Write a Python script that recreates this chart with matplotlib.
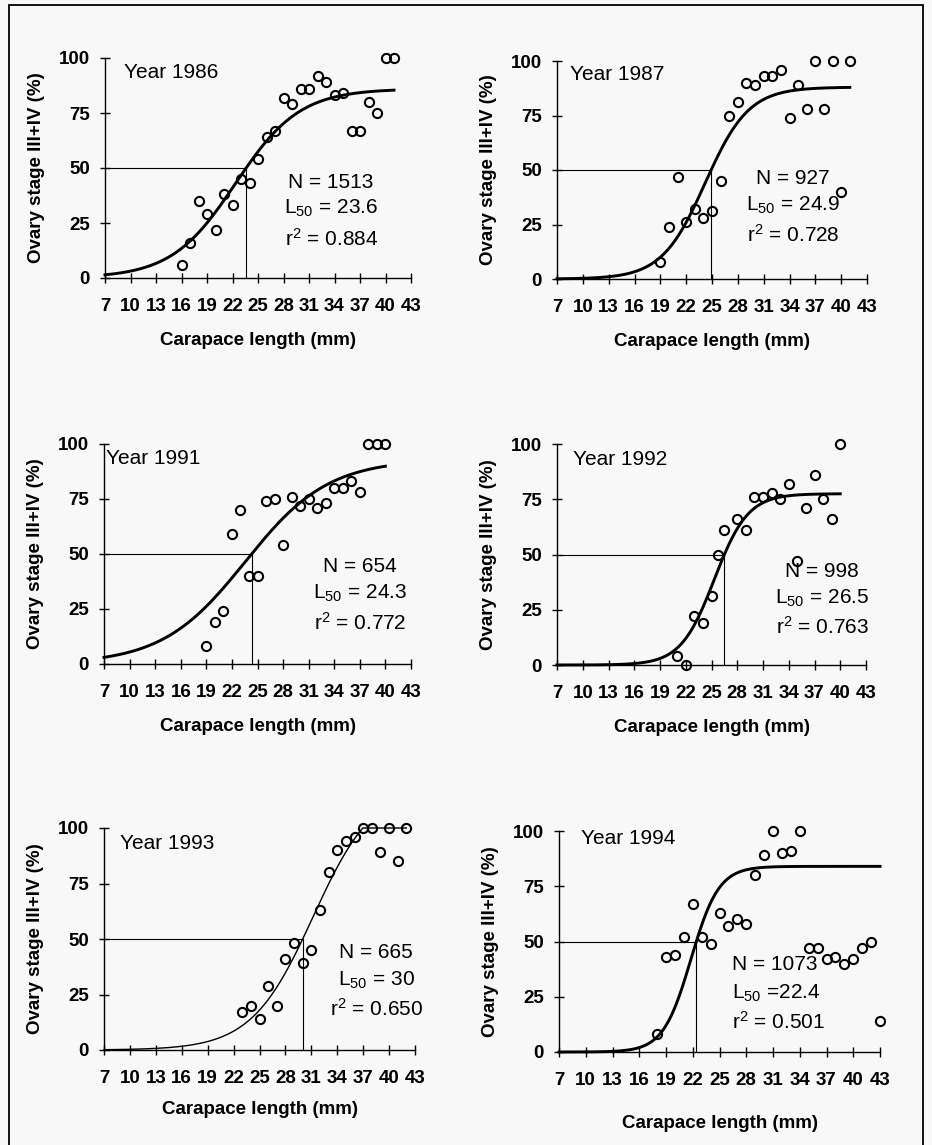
import numpy as np
import matplotlib.pyplot as plt
from matplotlib.patches import Rectangle

plt.rcParams['font.family'] = ['Liberation Sans', 'DejaVu Sans']
plt.rcParams['mathtext.fontset'] = 'custom'
plt.rcParams['mathtext.rm'] = 'Liberation Sans'
plt.rcParams['mathtext.it'] = 'Liberation Sans:italic'

# data
years = ['1986', '1987', '1991', '1992', '1993', '1994']

len_1986 = list(range(16, 42))
pct_1986 = [6, 16, 35, 29, 22, 38, 33, 45, 43, 54, 64, 67, 82, 79, 86, 86,
            92, 89, 83, 84, 67, 67, 80, 75, 100, 100]

len_1987 = list(range(19, 42))
pct_1987 = [8, 24, 47, 26, 32, 28, 31, 45, 75, 81, 90, 89, 93, 93, 96, 74,
            89, 78, 100, 78, 100, 40, 100]

len_1991 = list(range(19, 41))
pct_1991 = [8, 19, 24, 59, 70, 40, 40, 74, 75, 54, 76, 72, 75, 71, 73, 80,
            80, 83, 78, 100, 100, 100]

len_1992 = [21, 22, 23, 24, 25, 25.8, 26.5, 28, 29, 30, 31, 32, 33, 34, 35,
            36, 37, 38, 39, 40]
pct_1992 = [4, 0, 22, 19, 31, 50, 61, 66, 61, 76, 76, 78, 75, 82, 47, 71,
            86, 75, 66, 100]

len_1993 = list(range(23, 43))
pct_1993 = [17, 20, 14, 29, 20, 41, 48, 39, 45, 63, 80, 90, 94, 96, 100, 100,
            89, 100, 85, 100]

len_1994 = list(range(18, 44))
pct_1994 = [8, 43, 44, 52, 67, 52, 49, 63, 57, 60, 58, 80, 89, 100, 90, 91,
            100, 47, 47, 42, 43, 40, 42, 47, 50, 14]

n_fish = [1513, 927, 654, 998, 665, 1073]
l50 = [23.6, 24.9, 24.3, 26.5, 30, 22.4]
r_sq = ['0.884', '0.728', '0.772', '0.763', '0.650', '0.501']

# logistic fit: asymptote, slope, end of drawn curve
asym = [86, 88, 93, 77.5, 120, 84]
slope = [0.265, 0.395, 0.205, 0.51, 0.28, 0.64]
curve_end = [41, 41, 40, 40, 42, 43]

lengths = [len_1986, len_1987, len_1991, len_1992, len_1993, len_1994]
pcts = [pct_1986, pct_1987, pct_1991, pct_1992, pct_1993, pct_1994]

W, H = 932, 1145
fig = plt.figure(figsize=(W / 100, H / 100), dpi=100)
fig.patch.set_facecolor('#f8f8f8')

# axes boxes in pixels: left, right, top, bottom
boxes = [(105, 411, 58, 278), (557, 867, 61, 279),
         (104, 411, 444, 664), (557, 866, 444, 665),
         (104, 415, 828, 1050), (559, 880, 831, 1052)]
year_pos = [(0.062, 0.936), (0.042, 0.936), (0.0065, 0.936),
            (0.052, 0.932), (0.051, 0.932), (0.068, 0.968)]
stat_x = [0.739, 0.761, 0.834, 0.858, 0.875, 0.539]
stat_y = [(0.436, 0.318, 0.18), (0.463, 0.339, 0.202), (0.441, 0.323, 0.186),
          (0.425, 0.303, 0.172), (0.437, 0.315, 0.185), (0.394, 0.267, 0.136)]
xlab_off = [54, 54, 54, 54, 51, 63]

for i in range(6):
    l, r, t, b = boxes[i]
    ax = fig.add_axes([l / W, 1 - b / H, (r - l) / W, (b - t) / H])
    ax.patch.set_alpha(0)
    for s in ['top', 'right']:
        ax.spines[s].set_visible(False)
    for s in ['left', 'bottom']:
        ax.spines[s].set_linewidth(1.0)

    ax.set_xlim(7, 43)
    ax.set_ylim(0, 100)
    ax.set_xticks(np.arange(7, 44, 3))
    ax.set_yticks([0, 25, 50, 75, 100])
    ax.tick_params(direction='inout', length=7.5, width=1.0, labelsize=13.5, pad=7)
    ax.tick_params(axis='x', pad=11)
    for lab in ax.get_xticklabels() + ax.get_yticklabels():
        lab.set_fontweight('bold')

    A, k, L = asym[i], slope[i], l50[i]
    m = L + np.log(A / 50 - 1) / k
    xc = np.linspace(7, curve_end[i], 300)
    yc = np.minimum(A / (1 + np.exp(-k * (xc - m))), 100)
    lw = 1.0 if years[i] == '1993' else 2.1
    ax.plot(xc, yc, color='black', lw=lw, clip_on=False)

    ax.plot([7, L], [50, 50], color='black', lw=0.8)
    ax.plot([L, L], [0, 50], color='black', lw=0.8)

    ax.plot(lengths[i], pcts[i], 'o', ms=6.6, mfc='none', mec='black', mew=1.5,
            clip_on=False)

    ax.text(year_pos[i][0], year_pos[i][1], 'Year ' + years[i], transform=ax.transAxes,
            fontsize=15, ha='left', va='center')
    ha = 'left' if i == 5 else 'center'
    eq = '=' if i == 5 else '= '
    lines = ['N = %d' % n_fish[i],
             'L$_{\\mathrm{50}}$ ' + eq + ('%g' % L),
             'r$^{\\mathrm{2}}$ = ' + r_sq[i]]
    for txt, yy in zip(lines, stat_y[i]):
        ax.text(stat_x[i], yy, txt, transform=ax.transAxes, fontsize=15,
                ha=ha, va='center')

    ax.set_xlabel('Carapace length (mm)', fontsize=13.5, fontweight='bold')
    ax.set_ylabel('Ovary stage III+IV (%)', fontsize=13.5, fontweight='bold')
    ax.xaxis.set_label_coords(0.5, -xlab_off[i] / (b - t))
    ax.yaxis.set_label_coords(-60 / (r - l), 0.5)

# frame round the whole figure
fig.patches.append(Rectangle((9 / W, -0.01), 914 / W, 1.01 - 5 / H,
                             transform=fig.transFigure, fill=False,
                             edgecolor='black', lw=1.3))

fig.savefig('out.png', dpi=100, facecolor=fig.get_facecolor())
